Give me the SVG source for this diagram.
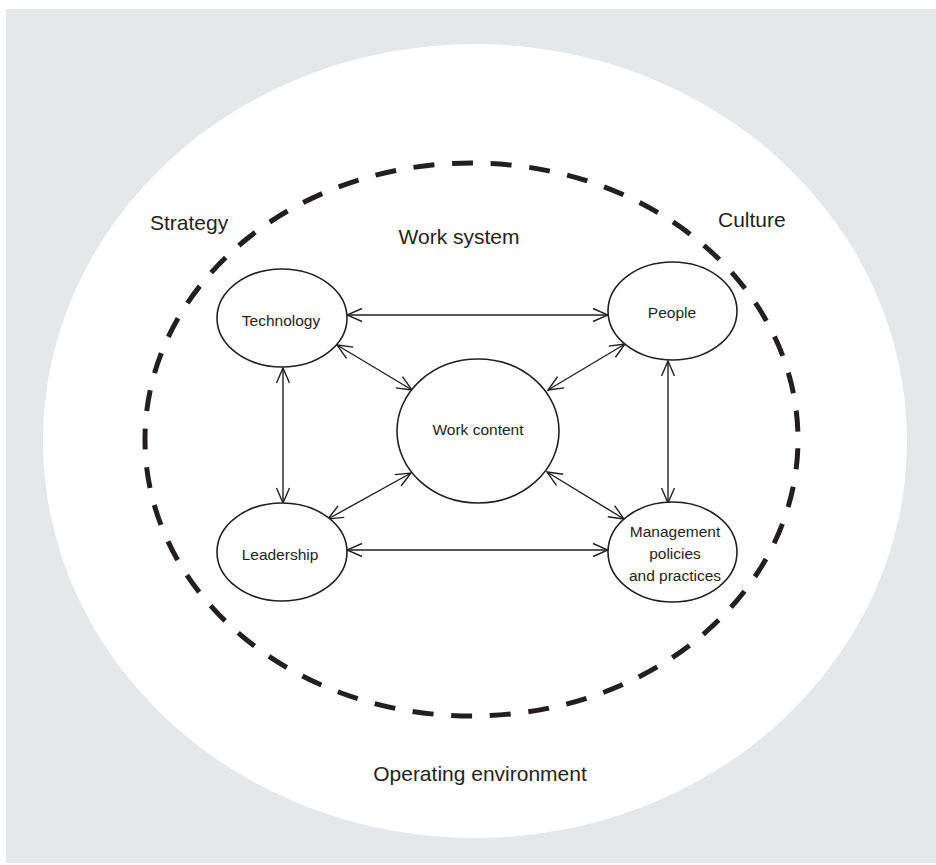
<svg xmlns="http://www.w3.org/2000/svg" width="936" height="865" viewBox="0 0 936 865">
  <style>
    .lbl { font-family: "Liberation Sans", Arial, sans-serif; fill: #231f20; }
    .outer { font-size: 21px; }
    .inner { font-size: 15.5px; }
    .node { fill: #ffffff; stroke: #231f20; stroke-width: 1.6; }
    .link { fill: none; stroke: #231f20; stroke-width: 1.4; marker-start: url(#head); marker-end: url(#head); }
  </style>
  <defs>
    <!-- open V arrowhead, used at both ends of every link -->
    <marker id="head" viewBox="-17 -8 18 16" markerWidth="18" markerHeight="16" refX="0" refY="0" orient="auto-start-reverse" markerUnits="userSpaceOnUse">
      <path d="M-15,-6.5 L0,0 L-15,6.5" fill="none" stroke="#231f20" stroke-width="1.4"/>
    </marker>
  </defs>

  <!-- background panel and operating environment -->
  <rect x="6" y="9" width="930" height="854" fill="#e6e7e8"/>
  <ellipse cx="475" cy="441" rx="432" ry="397" fill="#ffffff"/>

  <!-- work system boundary -->
  <ellipse cx="471.5" cy="439.5" rx="326.5" ry="276.5" fill="none" stroke="#231f20" stroke-width="5" stroke-dasharray="21 17.73" stroke-dashoffset="29.87"/>

  <!-- context labels -->
  <text class="lbl outer" x="150" y="230">Strategy</text>
  <text class="lbl outer" x="718" y="227">Culture</text>
  <text class="lbl outer" x="459" y="244" text-anchor="middle">Work system</text>
  <text class="lbl outer" x="480" y="781" text-anchor="middle">Operating environment</text>

  <!-- connectors -->
  <g id="connectors">
    <line class="link" x1="347" y1="315" x2="608" y2="315"/>
    <line class="link" x1="347" y1="550" x2="608" y2="550"/>
    <line class="link" x1="283" y1="368" x2="283" y2="503"/>
    <line class="link" x1="668" y1="361" x2="668" y2="503"/>
    <line class="link" x1="337" y1="345" x2="412" y2="390"/>
    <line class="link" x1="625" y1="344" x2="548" y2="390"/>
    <line class="link" x1="328" y1="519" x2="411" y2="473"/>
    <line class="link" x1="624" y1="519" x2="547" y2="472"/>
  </g>

  <!-- nodes -->
  <g id="technology">
    <ellipse class="node" cx="282" cy="318" rx="65" ry="49"/>
    <text class="lbl inner" x="281" y="326" text-anchor="middle">Technology</text>
  </g>
  <g id="people">
    <ellipse class="node" cx="672.5" cy="311" rx="64.5" ry="49"/>
    <text class="lbl inner" x="672" y="318" text-anchor="middle">People</text>
  </g>
  <g id="work-content">
    <ellipse class="node" cx="478" cy="431" rx="81" ry="72"/>
    <text class="lbl inner" x="478" y="435" text-anchor="middle">Work content</text>
  </g>
  <g id="leadership">
    <ellipse class="node" cx="282" cy="552" rx="65" ry="49"/>
    <text class="lbl inner" x="280" y="560" text-anchor="middle">Leadership</text>
  </g>
  <g id="management">
    <ellipse class="node" cx="672.5" cy="552" rx="64.5" ry="50"/>
    <text class="lbl inner" x="675" y="537" text-anchor="middle">Management</text>
    <text class="lbl inner" x="675" y="559" text-anchor="middle">policies</text>
    <text class="lbl inner" x="675" y="581" text-anchor="middle">and practices</text>
  </g>
</svg>
